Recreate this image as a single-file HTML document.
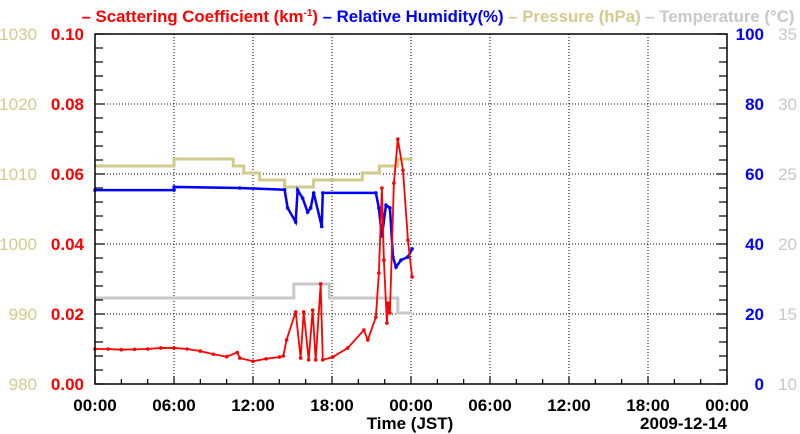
<!DOCTYPE html>
<html><head><meta charset="utf-8"><style>
html,body{margin:0;padding:0;background:#fff;}
svg{display:block;font-family:"Liberation Sans",sans-serif;}
</style></head><body>
<svg id="chart" width="800" height="434" viewBox="0 0 800 434" xmlns="http://www.w3.org/2000/svg">
<text x="438" y="22" text-anchor="middle" font-size="16.8" font-weight="bold"><tspan fill="#ff0000">– Scattering Coefficient (km<tspan font-size="10" dy="-6">-1</tspan><tspan dy="6">)</tspan></tspan><tspan fill="#0000ff"> – Relative Humidity(%)</tspan><tspan fill="#d2cb8c"> – Pressure (hPa)</tspan><tspan fill="#c8c8c8"> – Temperature (°C)</tspan></text>
<g id="grid"></g><g id="series"></g><g id="axes"></g>
</svg>
<script>
const scatHours=[0,1,2,3,4,5,6,7,8,9,10,10.8,11,12,13,14,14.3,14.55,15.24,15.62,15.85,16.23,16.53,16.76,17.14,17.3,18.06,19.2,20.42,20.72,21.33,21.56,21.79,21.94,22.17,22.25,22.4,22.7,23.0,23.39,23.77,24.08];
const scatVals=[0.0100,0.0100,0.0098,0.0099,0.0100,0.0103,0.0103,0.0100,0.0094,0.0085,0.0078,0.0090,0.0074,0.0065,0.0072,0.0077,0.0080,0.0126,0.0206,0.0074,0.0206,0.0069,0.0211,0.0069,0.0286,0.0069,0.0077,0.0103,0.0154,0.0126,0.0191,0.0317,0.056,0.0354,0.0174,0.0231,0.0203,0.0574,0.070,0.0611,0.0411,0.0306];
const rhHours=[0,6,6.01,11,14.4,14.63,15.24,15.39,15.77,16.15,16.38,16.61,17.22,17.3,21.33,21.56,21.79,22.1,22.4,22.63,22.86,23.24,23.77,24.08];
const rhVals=[55.4,55.4,56.3,56.0,55.5,50.3,46.3,55.4,53.1,49.1,50.3,54.6,45.0,54.6,54.6,50.3,42.3,51.1,50.3,36.3,33.4,35.4,36.3,38.6];
const presHours=[0,6,10.5,11.3,12.5,14.4,16.6,20.3,21.6,23.0,24.1];
const presVals=[1011.14,1012.14,1011.14,1010.14,1009.14,1008.14,1009.14,1010.14,1011.14,1012.14];
const tempHours=[0,15.1,17.8,23.0,24.1];
const tempVals=[16.14,17.14,16.14,15.07];
const xTickLabels=["00:00","06:00","12:00","18:00","00:00","06:00","12:00","18:00","00:00"];
const scatTicks=["0.00","0.02","0.04","0.06","0.08","0.10"];
const presTicks=["980","990","1000","1010","1020","1030"];
const rhTicks=["0","20","40","60","80","100"];
const tempTicks=["10","15","20","25","30","35"];

const L=95,R=727,T=34,B=384;
const X=h=>L+(R-L)*h/48;
const Ys=v=>B-(B-T)*v/0.10;
const Yr=v=>B-(B-T)*v/100;
const Yp=v=>B-(B-T)*(v-980)/50;
const Yt=v=>B-(B-T)*(v-10)/25;
const NS="http://www.w3.org/2000/svg";
function mk(tag,attrs,parent,txt){const e=document.createElementNS(NS,tag);for(const k in attrs)e.setAttribute(k,attrs[k]);if(txt!==undefined)e.textContent=txt;parent.appendChild(e);return e;}
const grid=document.getElementById('grid'),ser=document.getElementById('series'),ax=document.getElementById('axes');
for(let i=1;i<8;i++){const l=mk('line',{x1:X(i*6),x2:X(i*6),y1:T,y2:B,stroke:'#000','stroke-width':1,'stroke-dasharray':'1,2'},grid);

}
for(let i=1;i<5;i++){const l=mk('line',{x1:L,x2:R,y1:Ys(i*0.02),y2:Ys(i*0.02),stroke:'#000','stroke-width':1,'stroke-dasharray':'1,2'},grid);

}
function step(hours,vals,Y,color,name){let d='';for(let i=0;i<vals.length;i++){d+=(i?'L':'M')+X(hours[i])+','+Y(vals[i])+'L'+X(hours[i+1])+','+Y(vals[i]);}
const p=mk('path',{d:d,fill:'none',stroke:color,'stroke-width':3},ser);

}
step(tempHours,tempVals,Yt,'#c8c8c8','temperature-line');
step(presHours,presVals,Yp,'#d2cb8c','pressure-line');
function line(hours,vals,Y,color,name,w){let d='';hours.forEach((h,i)=>{d+=(i?'L':'M')+X(h)+','+Y(vals[i]);});
const p=mk('path',{d:d,fill:'none',stroke:color,'stroke-width':w},ser);


hours.forEach((h,i)=>{const c=mk('circle',{cx:X(h),cy:Y(vals[i]),r:1.8,fill:color},ser);

});}
line(rhHours,rhVals,Yr,'#0000ff','humidity-line',2.5);
line(scatHours,scatVals,Ys,'#ff0000','scattering-line',1.8);
const fr=mk('rect',{x:L,y:T,width:R-L,height:B-T,fill:'none',stroke:'#000','stroke-width':1.5},ax);


for(let i=0;i<=24;i++){const len=i%3==0?8:5;mk('line',{x1:X(i*2),x2:X(i*2),y1:B,y2:B-len,stroke:'#000','stroke-width':1.2},ax);}
for(let i=0;i<=25;i++){const y=B-(B-T)*i/25;const len=i%5==0?10:8;mk('line',{x1:L,x2:L+len,y1:y,y2:y,stroke:'#000','stroke-width':1.2},ax);mk('line',{x1:R,x2:R-len,y1:y,y2:y,stroke:'#000','stroke-width':1.2},ax);}
xTickLabels.forEach((t,i)=>{const e=mk('text',{x:X(i*6),y:B+27,'text-anchor':'middle','font-size':17,'font-weight':'bold',fill:'#000'},ax,t);

});
for(let i=0;i<6;i++){const y=B-(B-T)*i/5+6;
let e=mk('text',{x:84,y:y,'text-anchor':'end','font-size':17,'font-weight':'bold',fill:'#ff0000'},ax,scatTicks[i]);


e=mk('text',{x:37,y:y,'text-anchor':'end','font-size':17,fill:'#d2cb8c'},ax,presTicks[i]);


e=mk('text',{x:764,y:y,'text-anchor':'end','font-size':17,'font-weight':'bold',fill:'#0000ff'},ax,rhTicks[i]);


e=mk('text',{x:797,y:y,'text-anchor':'end','font-size':17,fill:'#c8c8c8'},ax,tempTicks[i]);

}
let e=mk('text',{x:410,y:429,'text-anchor':'middle','font-size':17,'font-weight':'bold',fill:'#000'},ax,'Time (JST)');


e=mk('text',{x:727,y:429,'text-anchor':'end','font-size':17,'font-weight':'bold',fill:'#000'},ax,'2009-12-14');


</script>
</body></html>
